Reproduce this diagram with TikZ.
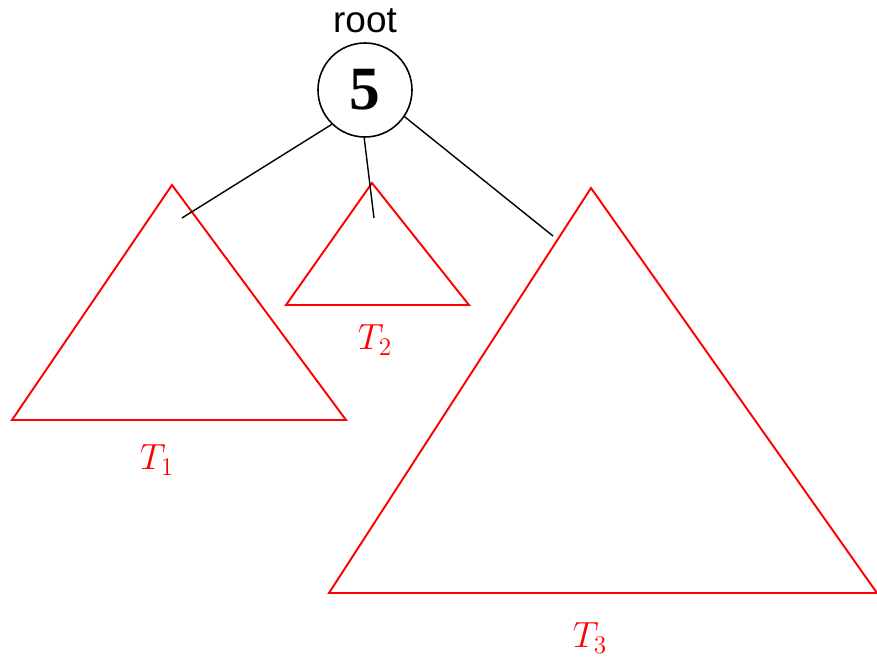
\documentclass[tikz,border=0pt]{standalone}
\usepackage{fontspec}
\setmainfont{Liberation Serif}
\setsansfont{Liberation Sans}
\usepackage{amsmath}
\usetikzlibrary{positioning}

\begin{document}
\begin{tikzpicture}[
    x=0.02cm, y=-0.02cm,
    rootnode/.style={
        circle,
        draw,
        line width=0.9pt,
        minimum size=94*0.02cm,
        inner sep=0pt,
        font=\fontsize{35}{35}\selectfont\bfseries
    },
    subtree/.style={draw=red, line width=1.1pt, line join=miter},
    tlabel/.style={text=red, font=\fontsize{21}{21}\selectfont},
    edge/.style={line width=0.8pt}
]
\useasboundingbox (0,0) rectangle (877,660);

\node[rootnode] (r) at (365,90) {5};
\node[font=\sffamily\fontsize{21}{21}\selectfont, above=2pt of r] (rt) {root};

% subtrees
\coordinate (t1a) at (172,185);
\coordinate (t1l) at (12,420);
\coordinate (t1r) at (346,420);
\coordinate (t2a) at (372,183);
\coordinate (t2l) at (286,305);
\coordinate (t2r) at (469,305);
\coordinate (t3a) at (591,188);
\coordinate (t3l) at (329,593);
\coordinate (t3r) at (877,593);

\draw[subtree] (t1a) -- (t1l) -- (t1r) -- cycle;
\draw[subtree] (t2a) -- (t2l) -- (t2r) -- cycle;
\draw[subtree] (t3a) -- (t3l) -- (t3r) -- cycle;

\node[tlabel] (l1) at (157,460) {$T_1$};
\node[tlabel] (l2) at (375,340) {$T_2$};
\node[tlabel] (l3) at (590,638) {$T_3$};

% edges to the subtrees
\coordinate (e1) at (182,218);
\coordinate (e2) at (374,218);
\coordinate (e3) at (553,236);

\draw[edge] (r.-134) -- (e1);
\draw[edge] (r.-91) -- (e2);
\draw[edge] (r.-34) -- (e3);

\end{tikzpicture}
\end{document}
